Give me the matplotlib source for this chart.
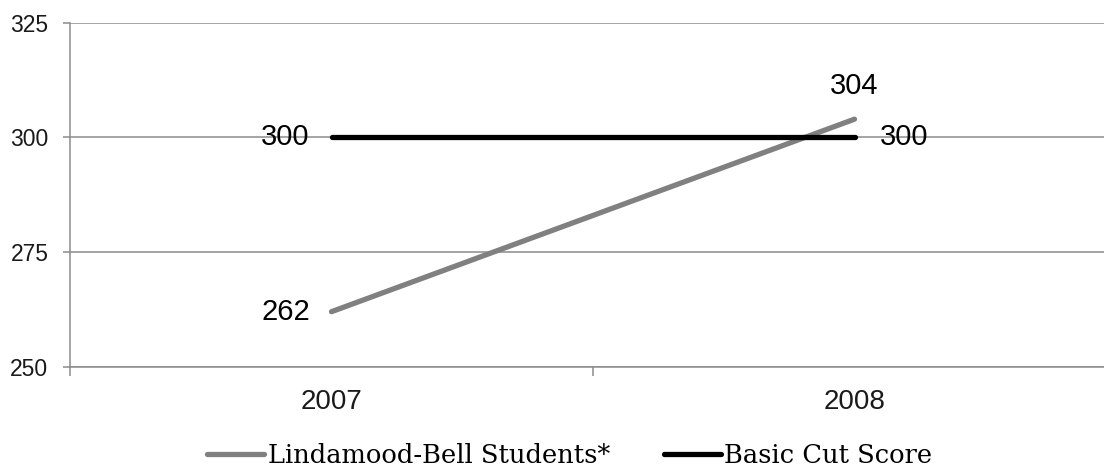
import matplotlib
matplotlib.use("Agg")
import matplotlib.pyplot as plt
from matplotlib.lines import Line2D

plt.rcParams["font.family"] = ["Liberation Sans", "DejaVu Sans"]

# scores by year
years = ["2007", "2008"]
students = [262, 304]
cut_score = [300, 300]
series_names = ["Lindamood-Bell Students*", "Basic Cut Score"]

grid_col = "#8c8c8c"

fig = plt.figure(figsize=(11.04, 4.69), dpi=100)
ax = fig.add_axes([70 / 1104, 102.3 / 469, 1046 / 1104, 343.8 / 469])

x = list(range(len(years)))
ax.plot(x, students, color="#808080", lw=3.8, solid_capstyle="round", zorder=3)
ax.plot(x, cut_score, color="black", lw=3.8, solid_capstyle="round", zorder=4)

ax.set_xlim(-0.5, 1.5)
ax.set_ylim(250, 325)
ax.set_yticks([250, 275, 300, 325])
ax.yaxis.grid(True, color=grid_col, lw=1.1)
ax.set_axisbelow(True)

ax.set_xticks([-0.5, 0.5, 1.5])
ax.set_xticklabels([])
ax.set_xticks(x, minor=True)
ax.set_xticklabels(years, minor=True)
ax.tick_params(axis="x", which="major", length=6.5, width=1.1, color=grid_col)
ax.tick_params(axis="x", which="minor", length=0, pad=16, labelsize=20, labelcolor="#1a1a1a")
ax.tick_params(axis="y", length=5, width=1.1, color=grid_col, pad=10.5,
               labelsize=16.5, labelcolor="#1a1a1a")

for side in ["top", "right"]:
    ax.spines[side].set_visible(False)
for side in ["left", "bottom"]:
    ax.spines[side].set_color(grid_col)
    ax.spines[side].set_linewidth(1.1)

# value labels
lab = dict(fontsize=21, color="black", va="center")
ax.annotate(str(students[0]), (x[0], students[0]), xytext=(-46, 0),
            textcoords="offset pixels", ha="center", **lab)
ax.annotate(str(students[1]), (x[1], students[1]), xytext=(0, 33),
            textcoords="offset pixels", ha="center", **lab)
ax.annotate(str(cut_score[0]), (x[0], cut_score[0]), xytext=(-46, 0),
            textcoords="offset pixels", ha="center", **lab)
ax.annotate(str(cut_score[1]), (x[1], cut_score[1]), xytext=(50, 0),
            textcoords="offset pixels", ha="center", **lab)

handles = [Line2D([], [], color="#808080", lw=3.8, solid_capstyle="round"),
           Line2D([], [], color="black", lw=3.8, solid_capstyle="round")]
fig.legend(handles, series_names, loc="center", bbox_to_anchor=(570 / 1104, 14 / 469),
           ncol=2, frameon=False, handlelength=2.2, handletextpad=0.15,
           columnspacing=2.1, prop={"family": "DejaVu Serif", "size": 18.5})

fig.savefig("out.png", dpi=100)
